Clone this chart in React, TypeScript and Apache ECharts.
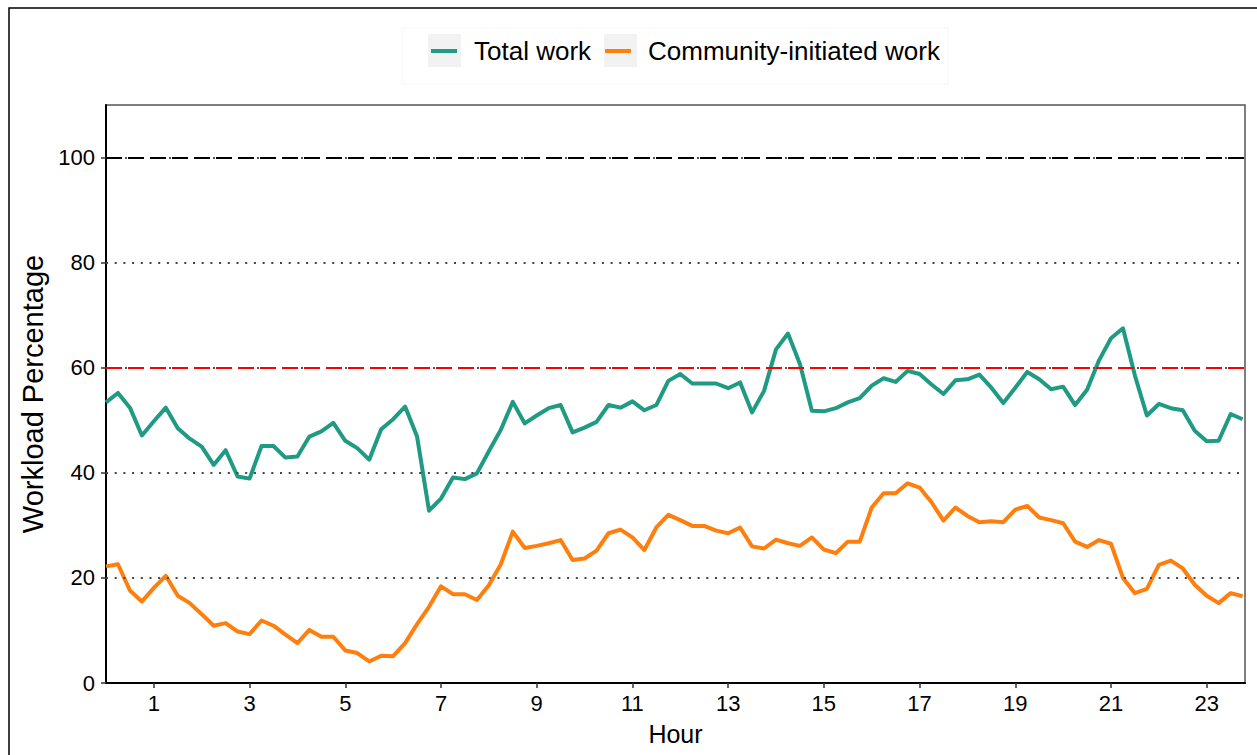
import React, { useEffect, useRef } from "react";
import * as echarts from "echarts";

const totalWork = [
  53.4, 55.2, 52.4, 47.1, 49.8, 52.4, 48.5, 46.5, 45.0, 41.5, 44.3, 39.3, 38.9, 45.1, 45.1, 42.9, 43.1, 46.9, 47.9, 49.5, 46.1, 44.7, 42.5, 48.3,
  50.2, 52.6, 46.9, 32.8, 35.1, 39.1, 38.8, 39.9, 44.1, 48.2, 53.5, 49.4, 50.9, 52.3, 52.9, 47.7, 48.6, 49.7, 52.9, 52.4, 53.6, 51.9, 52.9, 57.5,
  58.8, 57.0, 57.0, 57.0, 56.1, 57.2, 51.5, 55.6, 63.5, 66.5, 60.7, 51.8, 51.7, 52.3, 53.4, 54.2, 56.6, 58.0, 57.3, 59.4, 58.8, 56.8, 55.0, 57.6,
  57.8, 58.7, 56.2, 53.3, 56.2, 59.2, 57.8, 55.9, 56.4, 52.9, 55.8, 61.4, 65.6, 67.5, 58.5, 50.9, 53.1, 52.3, 51.9, 48.0, 46.0, 46.1, 51.2, 50.2,
];

const communityWork = [
  22.2, 22.6, 17.6, 15.5, 18.1, 20.4, 16.6, 15.2, 13.1, 10.9, 11.4, 9.8, 9.3, 11.9, 10.9, 9.2, 7.6, 10.1, 8.8, 8.8, 6.2, 5.7, 4.1, 5.2,
  5.1, 7.6, 11.2, 14.5, 18.4, 16.9, 16.9, 15.8, 18.6, 22.6, 28.8, 25.7, 26.1, 26.6, 27.2, 23.4, 23.7, 25.2, 28.5, 29.2, 27.7, 25.3, 29.6, 32.0,
  31.0, 29.9, 29.9, 29.0, 28.5, 29.6, 26.0, 25.6, 27.3, 26.6, 26.1, 27.7, 25.4, 24.7, 26.9, 26.9, 33.4, 36.1, 36.1, 38.0, 37.2, 34.4, 30.9, 33.4,
  31.8, 30.6, 30.8, 30.6, 33.0, 33.7, 31.5, 31.0, 30.4, 26.9, 25.9, 27.2, 26.5, 20.0, 17.1, 17.9, 22.5, 23.3, 21.8, 18.7, 16.6, 15.2, 17.1, 16.5,
];

// sampling step: every 15 minutes
const stepHours = 0.25;
const xTickLabels = [1, 3, 5, 7, 9, 11, 13, 15, 17, 19, 21, 23];
const yTickLabels = [0, 20, 40, 60, 80, 100];
const dottedGridValues = [20, 40, 80];
const redRefValue = 60;
const blackRefValue = 100;
const seriesNames = ["Total work", "Community-initiated work"];

const FONT = "'Liberation Sans', Arial, Helvetica, sans-serif";
const TEAL = "#1f9a83";
const ORANGE = "#ff7f0e";

export default function App() {
  const ref = useRef<HTMLDivElement>(null);

  useEffect(() => {
    if (!ref.current) return;
    const chart = echarts.init(ref.current, undefined, { renderer: "svg" });

    const totalData = totalWork.map((v, i) => [i * stepHours, v]);
    const commData = communityWork.map((v, i) => [i * stepHours, v]);

    const gridLines = dottedGridValues.map((v) => ({
      yAxis: v,
      lineStyle: { color: "#444", width: 2, type: [2, 6.7] },
    }));
    const refLine = (v: number, color: string) => [
      { yAxis: v, lineStyle: { color, width: 2, type: [16, 6] } },
      { yAxis: v, lineStyle: { color: "#555", width: 2, type: [2, 42], dashOffset: 25 } },
    ];

    chart.setOption({
      animation: false,
      backgroundColor: "#ffffff",
      textStyle: { fontFamily: FONT },
      grid: {
        left: 106,
        right: 12,
        top: 105,
        bottom: 72,
        show: true,
        borderColor: "#555",
        borderWidth: 1.5,
        backgroundColor: "transparent",
      },
      graphic: [
        {
          type: "rect",
          z: 0,
          shape: { x: 9, y: 8, width: 1300, height: 800 },
          style: { fill: "none", stroke: "#000", lineWidth: 1.5 },
          silent: true,
        },
        {
          type: "rect",
          z: 0,
          shape: { x: 402, y: 28, width: 546, height: 56 },
          style: { fill: "none", stroke: "#f6f6f6", lineWidth: 1 },
          silent: true,
        },
        {
          type: "rect",
          z: 0,
          shape: { x: 428, y: 34, width: 33, height: 33 },
          style: { fill: "#f2f2f2" },
          silent: true,
        },
        {
          type: "rect",
          z: 0,
          shape: { x: 604, y: 34, width: 33, height: 33 },
          style: { fill: "#f2f2f2" },
          silent: true,
        },
      ],
      legend: {
        data: seriesNames,
        left: 431,
        top: 36,
        padding: 0,
        itemWidth: 26,
        itemHeight: 4,
        itemGap: 14,
        icon: "rect",
        z: 5,
        textStyle: {
          fontFamily: FONT,
          fontSize: 26,
          color: "#000",
          lineHeight: 30,
          padding: [0, 0, 0, 12],
        },
      },
      xAxis: {
        type: "value",
        min: 0,
        max: 23.8,
        name: "Hour",
        nameLocation: "middle",
        nameGap: 38,
        nameTextStyle: { fontFamily: FONT, fontSize: 25, color: "#000" },
        axisLine: { show: true, onZero: false, lineStyle: { color: "#000", width: 2 } },
        axisTick: {
          show: true,
          length: 5,
          customValues: xTickLabels,
          lineStyle: { color: "#333", width: 1.5 },
        },
        axisLabel: {
          customValues: xTickLabels,
          fontFamily: FONT,
          fontSize: 22,
          color: "#000",
          margin: 9,
        },
        splitLine: { show: false },
      },
      yAxis: {
        type: "value",
        min: 0,
        max: 110,
        name: "Workload Percentage",
        nameLocation: "middle",
        nameRotate: 90,
        nameGap: 55,
        nameTextStyle: { fontFamily: FONT, fontSize: 29, color: "#000" },
        axisLine: { show: true, onZero: false, lineStyle: { color: "#000", width: 2 } },
        axisTick: {
          show: true,
          length: 5,
          customValues: yTickLabels,
          lineStyle: { color: "#333", width: 1.5 },
        },
        axisLabel: {
          customValues: yTickLabels,
          fontFamily: FONT,
          fontSize: 22,
          color: "#000",
          margin: 11,
        },
        splitLine: { show: false },
      },
      series: [
        {
          name: "__ref",
          type: "line",
          data: totalData,
          showSymbol: false,
          silent: true,
          z: 1,
          lineStyle: { opacity: 0 },
          markLine: {
            silent: true,
            symbol: "none",
            label: { show: false },
            animation: false,
            data: [
              ...gridLines,
              ...refLine(redRefValue, "#ff0000"),
              ...refLine(blackRefValue, "#000000"),
            ],
          },
        },
        {
          name: seriesNames[0],
          type: "line",
          data: totalData,
          showSymbol: false,
          z: 3,
          color: TEAL,
          lineStyle: { color: TEAL, width: 4, join: "round" },
        },
        {
          name: seriesNames[1],
          type: "line",
          data: commData,
          showSymbol: false,
          z: 3,
          color: ORANGE,
          lineStyle: { color: ORANGE, width: 4, join: "round" },
        },
      ],
    });

    return () => chart.dispose();
  }, []);

  return (
    <div
      ref={ref}
      style={{ position: "fixed", left: 0, top: 0, width: 1257, height: 755 }}
    />
  );
}
